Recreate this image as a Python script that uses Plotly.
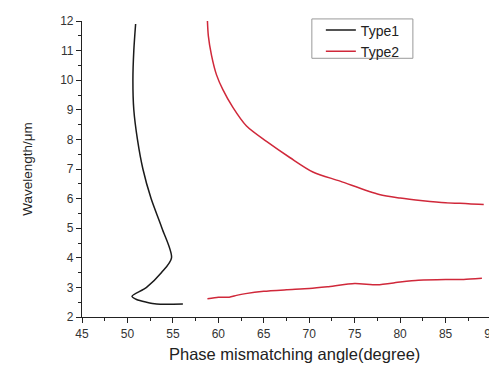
import plotly.graph_objects as go

type1_x = [50.9, 50.7, 50.6, 50.7, 51.1, 51.7, 52.6, 53.8, 54.85, 53.75, 52.1, 50.5, 51.0, 52.1, 53.2, 56.1]
type1_y = [11.9, 11.0, 10.0, 9.0, 8.0, 7.0, 6.0, 5.0, 4.0, 3.5, 3.0, 2.7, 2.59, 2.5, 2.44, 2.44]

type2a_x = [58.8, 58.9, 59.25, 59.8, 60.5, 61.6, 63.1, 65.3, 67.9, 70.4, 73.4, 77.7, 80.0, 82.5, 85.0, 87.5, 89.2]
type2a_y = [12.0, 11.5, 10.84, 10.18, 9.68, 9.08, 8.45, 7.93, 7.38, 6.9, 6.59, 6.14, 6.02, 5.93, 5.86, 5.83, 5.8]

type2b_x = [58.8, 60.0, 61.2, 62.0, 63.0, 65.0, 67.5, 70.0, 72.0, 75.0, 77.5, 80.0, 82.0, 85.0, 87.0, 89.0]
type2b_y = [2.62, 2.67, 2.67, 2.73, 2.79, 2.87, 2.92, 2.96, 3.02, 3.13, 3.09, 3.18, 3.24, 3.27, 3.27, 3.31]

x_ticks = [45, 50, 55, 60, 65, 70, 75, 80, 85, 90]
y_ticks = [2, 3, 4, 5, 6, 7, 8, 9, 10, 11, 12]

red = "#d0283a"
FONT = "Liberation Sans, Arial"

fig = go.Figure()
fig.add_trace(go.Scatter(x=type1_x, y=type1_y, mode="lines", name="Type1",
                         line=dict(color="#1a1a1a", width=1.5, shape="spline", smoothing=0.8)))
fig.add_trace(go.Scatter(x=type2a_x, y=type2a_y, mode="lines", name="Type2",
                         line=dict(color=red, width=1.5, shape="spline", smoothing=0.8)))
fig.add_trace(go.Scatter(x=type2b_x, y=type2b_y, mode="lines", name="Type2", showlegend=False,
                         line=dict(color=red, width=1.5, shape="spline", smoothing=0.6)))

axis_common = dict(showgrid=False, zeroline=False, showline=True, linecolor="#222", linewidth=1.2,
                   ticks="outside", ticklen=5, tickwidth=1.2, tickcolor="#222", automargin=False,
                   tickfont=dict(family=FONT, size=12, color="#333"))

fig.update_xaxes(range=[45, 90], tickvals=x_ticks, ticklabeloverflow="allow",
                 minor=dict(ticks="outside", ticklen=3, tickcolor="#222", dtick=2.5, tick0=45),
                 **axis_common)
fig.update_yaxes(range=[2, 12], tickvals=y_ticks,
                 minor=dict(ticks="outside", ticklen=3, tickcolor="#222", dtick=0.5, tick0=2),
                 **axis_common)

fig.add_annotation(text="Phase mismatching angle(degree)", xref="paper", yref="paper",
                   x=0.52, y=-0.125, xanchor="center", yanchor="middle", showarrow=False,
                   font=dict(family=FONT, size=16.5, color="#222"))
fig.add_annotation(text="Wavelength/μm", xref="paper", yref="paper",
                   x=-0.135, y=0.5, xanchor="center", yanchor="middle", showarrow=False, textangle=-90,
                   font=dict(family=FONT, size=13.5, color="#222"))

# legend frame
fig.add_shape(type="rect", xref="paper", yref="paper", x0=0.562, x1=0.809, y0=0.874, y1=1.007,
              line=dict(color="#999", width=1), fillcolor="rgba(0,0,0,0)", layer="above")

# page body has an 8px default margin; figure is sized so the plot area lands where the reference has it
fig.update_layout(
    width=489, height=362,
    margin=dict(l=74, r=6, t=7, b=53),
    plot_bgcolor="white", paper_bgcolor="white",
    legend=dict(x=0.584, y=1.022, xanchor="left", yanchor="top",
                bgcolor="rgba(0,0,0,0)", borderwidth=0,
                font=dict(family=FONT, size=14, color="#222"),
                tracegroupgap=0),
)

fig.write_html("out.html")
